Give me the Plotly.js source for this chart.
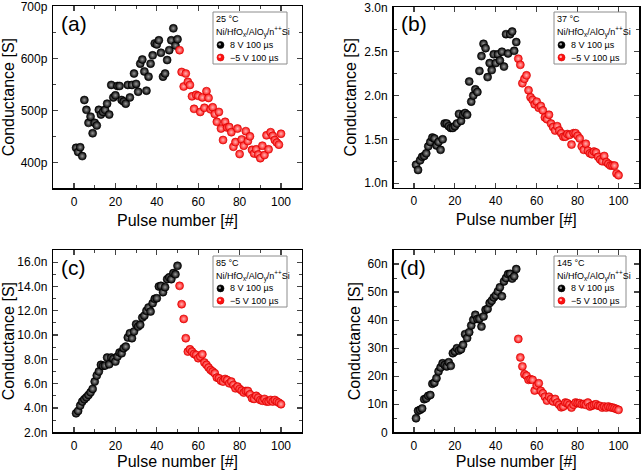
<!DOCTYPE html>
<html><head><meta charset="utf-8">
<script src="https://cdn.plot.ly/plotly-3.0.1.min.js"></script>
<style>body{margin:0;background:#fff}#chart{width:643px;height:470px}</style>
</head><body><div id="chart"></div>
<script>
const pulseSet = [1,2,3,4,5,6,7,8,9,10,11,12,13,14,15,16,17,18,19,20,21,22,23,24,25,26,27,28,29,30,31,32,33,34,35,36,37,38,39,40,41,42,43,44,45,46,47,48,49,50];
const pulseReset = [51,52,53,54,55,56,57,58,59,60,61,62,63,64,65,66,67,68,69,70,71,72,73,74,75,76,77,78,79,80,81,82,83,84,85,86,87,88,89,90,91,92,93,94,95,96,97,98,99,100];

// (a) 25 °C, pS
const gA_set = [428,420,429,412,520,501,476,488,456,476,471,501,492,497,501,513,492,549,525,529,547,547,520,517,513,549,525,549,571,551,536,590,598,575,538,565,590,606,629,627,635,611,565,571,597,616,635,658,625,637];
const gA_reset = [616,574,546,571,555,549,527,503,530,528,497,525,505,537,524,502,506,493,478,497,465,443,478,467,468,458,430,439,465,416,444,432,460,441,450,424,417,425,415,408,432,414,452,425,458,451,443,438,434,455];
// (b) 37 °C, nS
const gB_set = [1.21,1.15,1.26,1.30,1.31,1.34,1.42,1.47,1.52,1.51,1.43,1.47,1.38,1.50,1.68,1.68,1.65,1.63,1.63,1.65,1.68,1.79,1.71,1.78,1.80,1.78,2.16,1.93,2.00,2.07,2.04,2.28,2.45,2.59,2.54,2.21,2.37,2.29,2.47,2.37,2.47,2.40,2.50,2.33,2.70,2.48,2.70,2.73,2.51,2.61];
const gB_reset = [2.42,2.35,2.14,2.19,2.23,2.06,1.98,1.95,1.90,1.93,1.86,1.88,1.83,1.75,1.73,1.78,1.68,1.64,1.60,1.65,1.60,1.57,1.53,1.53,1.56,1.55,1.44,1.57,1.57,1.54,1.51,1.42,1.38,1.45,1.37,1.34,1.33,1.36,1.35,1.30,1.27,1.25,1.31,1.24,1.22,1.20,1.20,1.20,1.11,1.09];
// (c) 85 °C, nS
const gC_set = [3.56,3.76,4.2,4.53,4.72,4.88,5.07,5.29,5.57,6.17,6.67,7.0,7.55,7.46,7.49,8.15,7.6,8.15,8.04,7.82,8.23,8.56,8.5,8.92,9.05,9.8,10.15,9.74,10.29,10.9,10.7,10.84,11.44,11.6,12.0,12.27,11.94,12.62,12.98,13.03,14.0,14.05,13.53,13.94,14.6,14.75,14.6,15.1,15.0,15.7];
const gC_reset = [14.05,12.54,11.33,9.74,8.64,8.83,8.64,8.45,8.37,8.1,8.23,8.42,7.74,7.55,7.33,7.13,7.0,6.86,6.5,6.45,6.25,6.17,6.39,6.3,6.03,6.17,5.9,5.62,5.76,5.57,5.43,5.27,5.4,5.4,5.13,4.8,4.75,5.0,4.85,4.66,4.6,4.75,4.53,4.53,4.66,4.53,4.66,4.53,4.44,4.31];
// (d) 145 °C, nS
const gD_set = [5.0,7.7,8.0,8.5,11.8,12.1,13.0,13.3,17.3,17.7,19.3,21.7,23.1,24.6,24.0,23.5,25.0,23.7,28.2,28.8,30.0,29.2,29.6,31.2,35.0,33.6,35.7,38.1,40.1,41.9,40.4,40.5,37.7,41.3,43.7,44.0,46.1,46.9,48.1,48.8,50.2,51.7,48.5,53.8,55.0,56.4,56.5,54.8,55.6,58.2];
const gD_reset = [33.3,26.7,23.5,20.7,20.2,18.7,18.9,18.7,14.9,16.7,17.5,14.8,13.9,12.7,11.3,12.7,11.9,11.0,11.9,10.6,9.8,8.9,9.2,10.6,10.4,9.8,8.8,9.8,10.6,10.4,10.4,10.0,10.1,9.8,10.6,9.2,9.5,9.8,10.0,9.5,9.4,8.8,9.2,8.8,9.2,8.9,8.8,8.6,8.3,8.0];

const panelLabels = ['(a)','(b)','(c)','(d)'];
const temps = ['25 °C','37 °C','85 °C','145 °C'];
const device = 'Ni/HfO<sub>x</sub>/AlO<sub>y</sub>/n<sup>++</sup>Si';
const setName = '8 V 100 µs';
const resetName = '−5 V 100 µs';
const xTicks = [0,20,40,60,80,100];
const yTickVals = [[400,500,600,700],[1.0,1.5,2.0,2.5,3.0],[2,4,6,8,10,12,14,16],[0,10,20,30,40,50,60]];
const yTickText = [['400p','500p','600p','700p'],['1.0n','1.5n','2.0n','2.5n','3.0n'],['2.0n','4.0n','6.0n','8.0n','10.0n','12.0n','14.0n','16.0n'],['0','10n','20n','30n','40n','50n','60n']];
const yRanges = [[350,701],[0.95,3.01],[2,17],[0,65]];
const yMinor = [50,0.25,1,5];

const setData = [gA_set,gB_set,gC_set,gD_set];
const resetData = [gA_reset,gB_reset,gC_reset,gD_reset];

const W=643,H=470;
// pixel boxes [x0,x1,y0,y1] (y from top)
const boxes = [[53.3,301.7,6,188.3],[393.5,639,7,187.5],[53.3,301.7,250,432.3],[393.5,639,250,432.3]];
// legend boxes [x0,x1,y0,y1]
const legBoxes = [[213,287,12,64],[554,626,12,64],[213,287,256,307],[554,626,256,307]];
const labelPos = [[74,24],[414,24],[73,267],[413,267]];

const FONT = 'Liberation Sans, Arial, sans-serif';
const px = v => v/W, py = v => 1 - v/H;
const traces = [];
const layout = {
  width:W,height:H,margin:{l:0,r:0,t:0,b:0},
  paper_bgcolor:'#fff',plot_bgcolor:'#fff',
  font:{family:FONT,color:'#000'},
  showlegend:false, annotations:[], shapes:[]
};
const setMarker = {size:8,color:'#000',gradient:{type:'radial',color:'#9a9a9a'},line:{color:'#000',width:0.6}};
const resetMarker = {size:8,color:'#ff1010',gradient:{type:'radial',color:'#ffb4b4'},line:{color:'#d00000',width:0.6}};
function legendDot(cx, cy, fill, hl, edge){
  layout.shapes.push({type:'circle',xref:'paper',yref:'paper',xsizemode:'pixel',ysizemode:'pixel',
    xanchor:px(cx),yanchor:py(cy),x0:-3.5,x1:3.5,y0:-3.5,y1:3.5,fillcolor:fill,line:{color:edge,width:0.6}});
  layout.shapes.push({type:'circle',xref:'paper',yref:'paper',xsizemode:'pixel',ysizemode:'pixel',
    xanchor:px(cx),yanchor:py(cy),x0:-2,x1:0.5,y0:-0.5,y1:2,fillcolor:hl,line:{width:0}});
}
function legText(x, y, txt){
  layout.annotations.push({text:txt,xref:'paper',yref:'paper',x:px(x),y:py(y),xanchor:'left',yanchor:'middle',
    showarrow:false,font:{size:9,family:FONT},borderpad:0});
}
for(let i=0;i<4;i++){
  const sfx = i===0?'':String(i+1);
  traces.push({x:pulseSet,y:setData[i],xaxis:'x'+sfx,yaxis:'y'+sfx,mode:'markers',name:setName,marker:setMarker});
  traces.push({x:pulseReset,y:resetData[i],xaxis:'x'+sfx,yaxis:'y'+sfx,mode:'markers',name:resetName,marker:resetMarker});
  const b = boxes[i];
  layout['xaxis'+sfx] = {domain:[px(b[0]),px(b[1])],anchor:'y'+sfx,range:[-10,110],tickvals:xTicks,
    ticks:'inside',ticklen:5,tickwidth:1.2,showline:true,linewidth:1.5,linecolor:'#000',mirror:'ticks',
    showgrid:false,zeroline:false,tickfont:{size:12,family:FONT},ticklabelstandoff:2,ticklabeloverflow:'allow',
    minor:{dtick:10,ticks:'inside',ticklen:3,tickwidth:1,showgrid:false},
    title:{text:'Pulse number [#]',font:{size:16,family:FONT},standoff:6},automargin:false};
  layout['yaxis'+sfx] = {domain:[py(b[3]),py(b[2])],anchor:'x'+sfx,range:yRanges[i],tickvals:yTickVals[i],ticktext:yTickText[i],
    ticks:'inside',ticklen:5,tickwidth:1.2,showline:true,linewidth:1.5,linecolor:'#000',mirror:'ticks',
    showgrid:false,zeroline:false,tickfont:{size:12,family:FONT},ticklabelstandoff:2,ticklabeloverflow:'allow',
    minor:{dtick:yMinor[i],ticks:'inside',ticklen:3,tickwidth:1,showgrid:false},
    title:{text:'Conductance [S]',font:{size:16,family:FONT},standoff:3},automargin:false};
  // legend box
  const lb = legBoxes[i];
  layout.shapes.push({type:'rect',xref:'paper',yref:'paper',x0:px(lb[0]),x1:px(lb[1]),y0:py(lb[3]),y1:py(lb[2]),
    fillcolor:'#fff',line:{color:'#8c8c8c',width:1}});
  const lh = (lb[3]-lb[2])/4;
  legText(lb[0]+1.5, lb[2]+lh*0.5+0.5, temps[i]);
  legText(lb[0]+1.5, lb[2]+lh*1.5+0.5, device);
  legendDot(lb[0]+7.5, lb[2]+lh*2.5+0.5, '#000', '#9a9a9a', '#000');
  legText(lb[0]+16, lb[2]+lh*2.5+0.5, setName);
  legendDot(lb[0]+7.5, lb[2]+lh*3.5, '#ff1010', '#ffb4b4', '#d00000');
  legText(lb[0]+16, lb[2]+lh*3.5, resetName);
  const lp = labelPos[i];
  layout.annotations.push({text:panelLabels[i],xref:'paper',yref:'paper',x:px(lp[0]),y:py(lp[1]),xanchor:'center',yanchor:'middle',showarrow:false,font:{size:21,family:FONT}});
}
Plotly.newPlot('chart',traces,layout,{displayModeBar:false,staticPlot:true});
</script></body></html>
